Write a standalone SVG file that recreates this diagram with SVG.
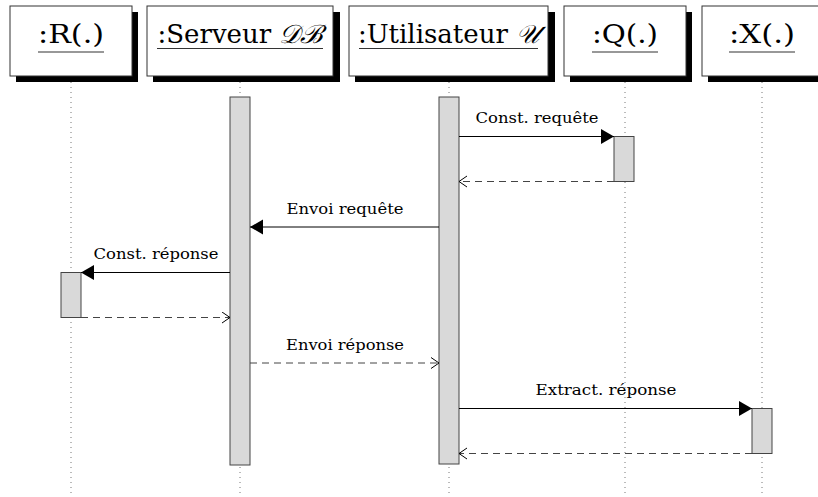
<svg xmlns="http://www.w3.org/2000/svg" width="818" height="497" viewBox="0 0 818 497">
<defs>
<marker id="fill" markerWidth="14" markerHeight="16" refX="13" refY="7.5" orient="auto" markerUnits="userSpaceOnUse">
<path d="M0,0 L13,7.5 L0,15 Z" fill="#000"/>
</marker>
<marker id="open" markerWidth="12" markerHeight="14" refX="9" refY="6" orient="auto" markerUnits="userSpaceOnUse">
<path d="M1,0.5 L9,6 L1,11.5" fill="none" stroke="#000" stroke-width="1"/>
</marker>
</defs>
<style>
.shadow{fill:#000}
.box{fill:#fff;stroke:#333;stroke-width:1}
.title{font-family:'DejaVu Serif','Liberation Serif',serif;font-size:26px;fill:#000;text-anchor:middle}
.ul{stroke:#333;stroke-width:1.2}
.life{stroke:#777;stroke-width:1;stroke-dasharray:1,4}
.act{fill:#d9d9d9;stroke:#444;stroke-width:1}
.msg{stroke:#000;stroke-width:1;fill:none}
.ret{stroke:#444;stroke-width:1;fill:none;stroke-dasharray:7,5}
.lbl{font-family:'DejaVu Serif','Liberation Serif',serif;font-size:14.5px;fill:#000;text-anchor:middle}
</style>
<rect width="818" height="497" fill="#fff"/>
<g id="lifelines">
<line class="life" x1="71" y1="82" x2="71" y2="497"/>
<line class="life" x1="240" y1="82" x2="240" y2="497"/>
<line class="life" x1="449" y1="82" x2="449" y2="497"/>
<line class="life" x1="625" y1="82" x2="625" y2="497"/>
<line class="life" x1="762" y1="82" x2="762" y2="497"/>
</g>
<g id="node-R">
<rect class="shadow" x="16" y="12" width="122" height="70"/>
<rect class="box" x="10" y="6" width="122" height="70"/>
<text class="title" x="71" y="43" textLength="66" lengthAdjust="spacingAndGlyphs">:R(.)</text>
<line class="ul" x1="38" y1="52" x2="104" y2="52"/>
</g>
<g id="node-Serveur">
<rect class="shadow" x="153" y="12" width="187" height="70"/>
<rect class="box" x="147" y="6" width="186" height="70"/>
<text class="title" x="240" y="43">:Serveur <tspan font-style="italic">𝒟ℬ</tspan></text>
<line class="ul" x1="157" y1="48.5" x2="323" y2="48.5"/>
</g>
<g id="node-Utilisateur">
<rect class="shadow" x="355" y="12" width="200" height="70"/>
<rect class="box" x="349" y="6" width="199" height="70"/>
<text class="title" x="448.5" y="43">:Utilisateur <tspan font-style="italic">𝒰</tspan></text>
<line class="ul" x1="359" y1="48.5" x2="538" y2="48.5"/>
</g>
<g id="node-Q">
<rect class="shadow" x="570" y="12" width="122" height="70"/>
<rect class="box" x="564" y="6" width="122" height="70"/>
<text class="title" x="625" y="43" textLength="66" lengthAdjust="spacingAndGlyphs">:Q(.)</text>
<line class="ul" x1="592" y1="52" x2="658" y2="52"/>
</g>
<g id="node-X">
<rect class="shadow" x="708" y="12" width="122" height="70"/>
<rect class="box" x="702" y="6" width="122" height="70"/>
<text class="title" x="762" y="43" textLength="66" lengthAdjust="spacingAndGlyphs">:X(.)</text>
<line class="ul" x1="729" y1="52" x2="795" y2="52"/>
</g>
<g id="activations">
<rect class="act" x="230" y="97" width="20" height="368"/>
<rect class="act" x="439" y="97" width="20" height="367"/>
<rect class="act" x="614" y="136.5" width="20" height="45"/>
<rect class="act" x="61" y="272.5" width="20" height="45"/>
<rect class="act" x="752" y="408.5" width="20" height="45"/>
</g>
<g id="connectors">
<line class="msg" x1="459" y1="136.5" x2="614" y2="136.5" marker-end="url(#fill)"/>
<line class="ret" x1="614" y1="181.5" x2="459" y2="181.5" marker-end="url(#open)"/>
<line class="msg" x1="439" y1="227" x2="250" y2="227" marker-end="url(#fill)"/>
<line class="msg" x1="230" y1="272.5" x2="81" y2="272.5" marker-end="url(#fill)"/>
<line class="ret" x1="81" y1="317.5" x2="230" y2="317.5" marker-end="url(#open)"/>
<line class="ret" x1="250" y1="363" x2="439" y2="363" marker-end="url(#open)"/>
<line class="msg" x1="459" y1="408.5" x2="752" y2="408.5" marker-end="url(#fill)"/>
<line class="ret" x1="752" y1="453.5" x2="459" y2="453.5" marker-end="url(#open)"/>
</g>
<g id="labels">
<text class="lbl" x="537" y="123" textLength="123" lengthAdjust="spacingAndGlyphs">Const. requête</text>
<text class="lbl" x="345" y="214" textLength="117" lengthAdjust="spacingAndGlyphs">Envoi requête</text>
<text class="lbl" x="156" y="259" textLength="125" lengthAdjust="spacingAndGlyphs">Const. réponse</text>
<text class="lbl" x="345" y="350" textLength="118" lengthAdjust="spacingAndGlyphs">Envoi réponse</text>
<text class="lbl" x="606" y="395" textLength="141" lengthAdjust="spacingAndGlyphs">Extract. réponse</text>
</g>
</svg>
